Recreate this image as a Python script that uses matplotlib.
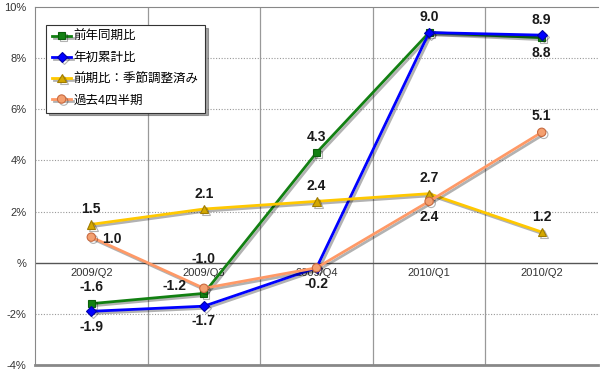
import matplotlib
matplotlib.use("Agg")
import matplotlib.pyplot as plt
import matplotlib.patheffects as pe

plt.rcParams['font.family'] = ['Liberation Sans', 'Noto Sans CJK JP', 'DejaVu Sans']

# data
quarters = ["2009/Q2", "2009/Q3", "2009/Q4", "2010/Q1", "2010/Q2"]
yoy = [-1.6, -1.2, 4.3, 9.0, 8.8]           # 前年同期比
ytd = [-1.9, -1.7, -0.2, 9.0, 8.9]          # 年初累計比
qoq_sa = [1.5, 2.1, 2.4, 2.7, 1.2]          # 前期比：季節調整済み
last4q = [1.0, -1.0, -0.2, 2.4, 5.1]        # 過去4四半期
y_ticks = [-4, -2, 0, 2, 4, 6, 8, 10]
y_tick_labels = ["-4%", "-2%", "%", "2%", "4%", "6%", "8%", "10%"]

fig = plt.figure(figsize=(6, 3.73), dpi=100)
ax = fig.add_axes([35 / 600, 1 - 365 / 373, 563 / 600, 358 / 373])

shadow = [pe.SimpleLineShadow(offset=(1.5, -1.5), alpha=0.3), pe.Normal()]
x = list(range(len(quarters)))

series = [
    (yoy, "前年同期比", "#128012", "s", "#128012", "#0b5e0b", 5),
    (ytd, "年初累計比", "#0000ff", "D", "#0000ff", "#0000aa", 5),
    (qoq_sa, "前期比：季節調整済み", "#ffc800", "^", "#d4a800", "#a07c00", 6),
    (last4q, "過去4四半期", "#ff9966", "o", "#f4a070", "#c86a40", 6),
]
for vals, name, col, mk, fc, ec, ms in series:
    ax.plot(x, vals, color=col, lw=2, marker=mk, ms=ms, mfc=fc, mec=ec,
            mew=0.8, label=name, path_effects=shadow, zorder=3)

# data labels: (series, index, dx, dy) offsets in points
lab_kw = dict(fontsize=10, fontweight="bold", color="#1a1a1a",
              ha="center", va="center", zorder=5)
labels = [
    (yoy, 0, 0, 12), (yoy, 1, -21, 5), (yoy, 2, 0, 11), (yoy, 3, 0, 11), (yoy, 4, 0, -11),
    (ytd, 0, 0, -11), (ytd, 1, 0, -11), (ytd, 2, 0, -12), (ytd, 4, 0, 11),
    (qoq_sa, 0, 0, 11), (qoq_sa, 1, 0, 11), (qoq_sa, 2, 0, 11), (qoq_sa, 3, 0, 11), (qoq_sa, 4, 0, 11),
    (last4q, 0, 15, -1), (last4q, 1, 0, 21), (last4q, 3, 0, -11), (last4q, 4, 0, 12),
]
for vals, i, dx, dy in labels:
    ax.annotate(f"{vals[i]:.1f}", (x[i], vals[i]), xytext=(dx, dy),
                textcoords="offset points", **lab_kw)

ax.set_xlim(-0.5, len(quarters) - 0.5)
ax.set_ylim(-4, 10)
ax.set_yticks(y_ticks)
ax.set_yticklabels(y_tick_labels, fontsize=8, color="#333333")
ax.tick_params(axis="y", length=0, pad=6)

# category labels sit just under the zero line
ax.set_xticks([])
for i, q in enumerate(quarters):
    ax.text(i, -0.2, q, ha="center", va="top", fontsize=8, color="#333333", zorder=2)

# gridlines: dotted horizontals, solid verticals between categories
for yv in y_ticks:
    if yv in (-4, 0, 10):
        continue
    ax.axhline(yv, color="#999999", lw=0.8, ls=(0, (1, 1.5)), zorder=1)
for xv in [0.5, 1.5, 2.5, 3.5]:
    ax.axvline(xv, color="#999999", lw=0.9, zorder=1)
ax.axhline(0, color="#555555", lw=1.0, zorder=2)

ax.spines["right"].set_visible(False)
ax.spines["left"].set_color("#888888")
ax.spines["top"].set_color("#888888")
ax.spines["bottom"].set_color("#888888")
ax.spines["bottom"].set_linewidth(2)

leg = ax.legend(loc="upper left", bbox_to_anchor=(11 / 563, 1 - 18 / 358),
                fontsize=9, frameon=True, fancybox=False, shadow=True,
                handlelength=1.5, handletextpad=0.2, borderpad=0.5,
                labelspacing=0.72, borderaxespad=0)
leg.get_frame().set_edgecolor("#333333")
leg.get_frame().set_linewidth(0.8)

fig.savefig("out.png", dpi=100)
